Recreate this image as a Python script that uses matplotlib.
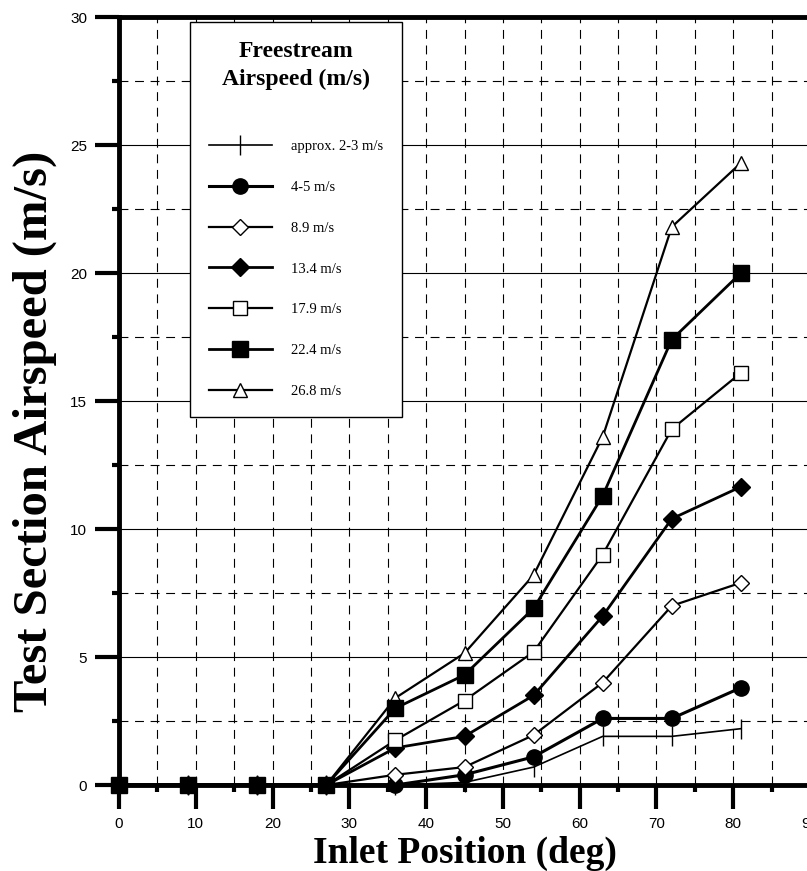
import numpy as np
import matplotlib.pyplot as plt
from matplotlib.ticker import MultipleLocator

# Inlet position (deg) and test section airspeed (m/s) per freestream speed
inlet = [0, 9, 18, 27, 36, 45, 54, 63, 72, 81]
v2_3 = [0, 0, 0, 0, 0.0, 0.1, 0.7, 1.9, 1.9, 2.2]
v4_5 = [0, 0, 0, 0, 0.0, 0.4, 1.1, 2.6, 2.6, 3.8]
v8_9 = [0, 0, 0, 0, 0.4, 0.7, 1.95, 4.0, 7.0, 7.9]
v13_4 = [0, 0, 0, 0, 1.45, 1.9, 3.5, 6.6, 10.4, 11.65]
v17_9 = [0, 0, 0, 0, 1.75, 3.3, 5.2, 9.0, 13.9, 16.1]
v22_4 = [0, 0, 0, 0, 3.0, 4.3, 6.9, 11.3, 17.4, 20.0]
v26_8 = [0, 0, 0, 0, 3.4, 5.15, 8.2, 13.6, 21.8, 24.3]
labels = ['approx. 2-3 m/s', '4-5 m/s', '8.9 m/s', '13.4 m/s',
          '17.9 m/s', '22.4 m/s', '26.8 m/s']

serif = 'Liberation Serif'
sans = 'Liberation Sans'

fig = plt.figure(figsize=(8.07, 8.71), dpi=100)
ax = fig.add_axes([119 / 807, 86 / 871, 691 / 807, 768 / 871])

series = [v2_3, v4_5, v8_9, v13_4, v17_9, v22_4, v26_8]
styles = [
    dict(marker='|', ms=14, mew=1.0, mfc='black'),
    dict(marker='o', ms=11, mew=1.0, mfc='black'),
    dict(marker='D', ms=8, mew=1.0, mfc='white'),
    dict(marker='D', ms=9, mew=1.0, mfc='black'),
    dict(marker='s', ms=10, mew=1.0, mfc='white'),
    dict(marker='s', ms=11, mew=1.0, mfc='black'),
    dict(marker='^', ms=10, mew=1.0, mfc='white'),
]
lws = [1.2, 2.2, 1.6, 2.0, 1.6, 2.0, 1.6]
zs = [4, 4, 4, 4, 4, 6, 5]
for y, st, lw, z, lab in zip(series, styles, lws, zs, labels):
    ax.plot(inlet, y, color='black', lw=lw, mec='black', label=lab,
            clip_on=False, zorder=z, **st)

ax.set_xlim(0, 90)
ax.set_ylim(0, 30)
ax.xaxis.set_major_locator(MultipleLocator(10))
ax.xaxis.set_minor_locator(MultipleLocator(5))
ax.yaxis.set_major_locator(MultipleLocator(5))
ax.yaxis.set_minor_locator(MultipleLocator(2.5))

ax.grid(which='major', axis='y', color='black', lw=0.8, ls='-', zorder=0)
ax.grid(which='minor', axis='y', color='black', lw=0.8, ls=(0, (8, 6)), zorder=0)
ax.grid(which='both', axis='x', color='black', lw=0.8, ls=(0, (8, 6)), zorder=0)

ax.tick_params(which='major', direction='out', length=17, width=3, labelsize=11,
               pad=6)
ax.tick_params(which='minor', direction='out', length=5, width=3)
for lab in ax.get_xticklabels() + ax.get_yticklabels():
    lab.set_fontfamily(sans)

for s in ['left', 'bottom', 'top']:
    ax.spines[s].set_linewidth(3.5)
ax.spines['right'].set_visible(False)

ax.set_xlabel('Inlet Position (deg)', fontsize=27, fontweight='bold',
              family=serif)
ax.set_ylabel('Test Section Airspeed (m/s)', fontsize=35, fontweight='bold',
              family=serif)
ax.xaxis.set_label_coords(0.5, (785 - 836) / 768)
ax.yaxis.set_label_coords((57 - 119) / 691, 1 - (431 - 17) / 768)

leg = ax.legend(loc='upper left', bbox_to_anchor=(71 / 691, 1 - 5 / 768),
                borderaxespad=0,
                title='Freestream\nAirspeed (m/s)', fancybox=False,
                edgecolor='black', framealpha=1, handlelength=4.3,
                labelspacing=1.9, borderpad=1.3, handletextpad=1.3,
                prop={'family': serif, 'size': 10.5})
leg.get_frame().set_linewidth(1.0)
leg.get_title().set_fontfamily(serif)
leg.get_title().set_fontweight('bold')
leg.get_title().set_fontsize(17)
leg.get_title().set_multialignment('center')
leg.get_title().set_linespacing(1.4)
leg._legend_box.sep = 36
leg.set_zorder(7)

plt.savefig('out.png', dpi=100)
